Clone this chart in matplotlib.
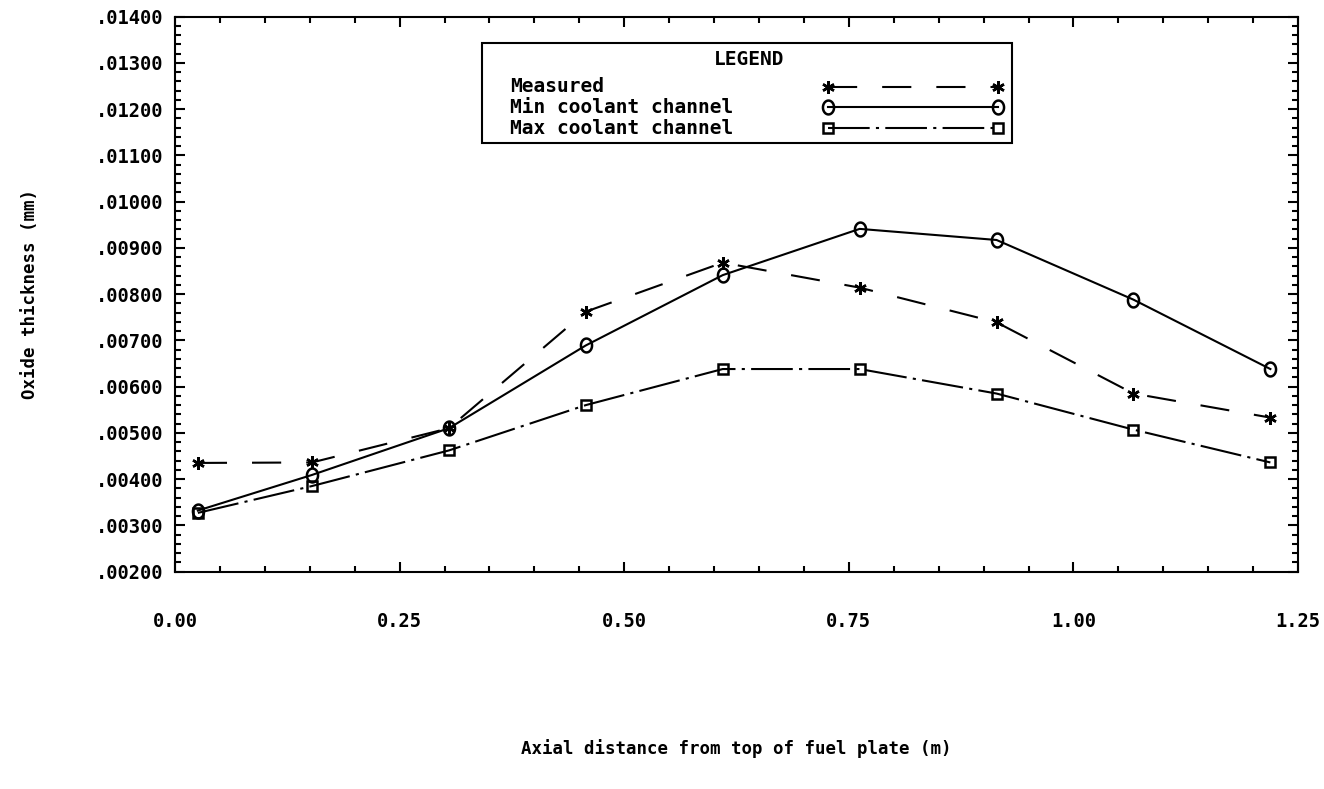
import matplotlib
matplotlib.use("Agg")
import matplotlib.pyplot as plt
from matplotlib.ticker import MultipleLocator, FuncFormatter
from matplotlib.patches import Rectangle
from matplotlib.path import Path
import numpy as np

# Data (positions in m, oxide thickness in mm)
distance = [0.0254, 0.1524, 0.3048, 0.4572, 0.6096, 0.7620, 0.9144, 1.0668, 1.2192]
measured = [0.00435, 0.00436, 0.00510, 0.00762, 0.00868, 0.00814, 0.00739, 0.00585, 0.00533]
min_channel = [0.00332, 0.00409, 0.00510, 0.00689, 0.00841, 0.00941, 0.00917, 0.00788, 0.00638]
max_channel = [0.00327, 0.00385, 0.00462, 0.00560, 0.00638, 0.00638, 0.00585, 0.00507, 0.00436]
labels = ["Measured", "Min coolant channel", "Max coolant channel"]

font = "DejaVu Sans Mono"

# "0" shaped marker, a bit taller than wide
t = np.linspace(0, 2 * np.pi, 40)
oval = Path(np.column_stack([0.8 * np.cos(t), np.sin(t)]), closed=True)

styles = [
    dict(color="black", lw=1.5, ls=(0, (14, 12)), marker=(6, 2, 0), ms=9, mew=1.8),
    dict(color="black", lw=1.5, ls="-", marker=oval, ms=10, mew=1.8, mfc="none"),
    dict(color="black", lw=1.5, ls=(0, (20, 3, 1.5, 3)), marker="s", ms=7.5, mew=1.8, mfc="none"),
]

fig = plt.figure(figsize=(13.24, 7.89), dpi=100)
ax = fig.add_axes([0.1322, 0.2755, 0.8482, 0.7035])

for ys, st in zip([measured, min_channel, max_channel], styles):
    ax.plot(distance, ys, **st)

ax.set_xlim(0, 1.25)
ax.set_ylim(0.002, 0.014)
ax.xaxis.set_major_locator(MultipleLocator(0.25))
ax.xaxis.set_minor_locator(MultipleLocator(0.05))
ax.yaxis.set_major_locator(MultipleLocator(0.001))
ax.yaxis.set_minor_locator(MultipleLocator(0.0002))
ax.xaxis.set_major_formatter(FuncFormatter(lambda v, p: f"{v:.2f}"))
ax.yaxis.set_major_formatter(FuncFormatter(lambda v, p: f"{v:.5f}".lstrip("0")))

ax.tick_params(which="both", direction="in", top=True, right=True, width=1.5)
ax.tick_params(which="major", length=7, labelsize=13.5)
ax.tick_params(which="minor", length=4)
ax.tick_params(axis="y", which="major", pad=8.5)
ax.tick_params(axis="x", which="major", pad=29)
for lab in ax.get_xticklabels() + ax.get_yticklabels():
    lab.set_family(font)
    lab.set_fontweight("bold")
for s in ax.spines.values():
    s.set_linewidth(1.5)

ax.set_xlabel("Axial distance from top of fuel plate (m)", family=font,
              fontweight="bold", fontsize=12.5, va="top")
ax.set_ylabel("Oxide thickness (mm)", family=font, fontweight="bold", fontsize=12.5)
ax.xaxis.set_label_coords(0.5, -0.302)
ax.yaxis.set_label_coords(-0.121, 0.5)

# legend box drawn by hand: labels left-aligned, samples on the right
tr = ax.transAxes
ax.add_patch(Rectangle((0.2734, 0.772), 0.4719, 0.1802, transform=tr, fill=True,
                       facecolor="white", edgecolor="black", lw=1.5, zorder=5))
ax.text(0.5111, 0.9225, "LEGEND", transform=tr, ha="center", va="center",
        family=font, fontweight="bold", fontsize=14, zorder=6)
for yy, lab, st in zip([0.8735, 0.8362, 0.7991], labels, styles):
    ax.text(0.2983, yy, lab, transform=tr, ha="left", va="center",
            family=font, fontweight="bold", fontsize=14, zorder=6)
    ax.plot([0.5815, 0.7329], [yy, yy], transform=tr, zorder=6, **st)

fig.savefig("out.png", dpi=100)
